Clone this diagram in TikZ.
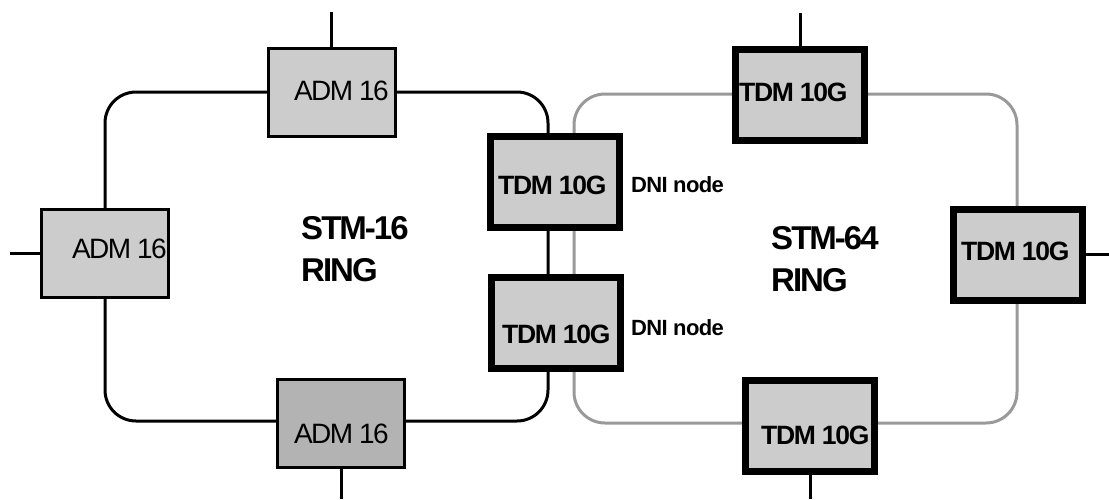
\documentclass[tikz,border=0pt]{standalone}
\usepackage{fontspec}
\setmainfont{Liberation Sans}
\definecolor{boxgray}{HTML}{CCCCCC}
\definecolor{boxdark}{HTML}{B3B3B3}
\definecolor{ringgray}{HTML}{999999}
\begin{document}
\begin{tikzpicture}[x=1pt,y=-1pt,
  ringline/.style={line width=3pt, rounded corners=31pt},
  admbox/.style={draw, line width=3pt, fill=boxgray, inner sep=0pt, minimum width=127pt, minimum height=88pt},
  tdmbox/.style={draw, line width=7pt, fill=boxgray, inner sep=0pt, minimum width=129pt, minimum height=91pt},
  stub/.style={line width=3pt},
  admtext/.style={anchor=base west, inner sep=0pt, font=\fontsize{28}{28}\selectfont\addfontfeature{LetterSpace=-6}},
  tdmtext/.style={anchor=base west, inner sep=0pt, font=\fontsize{26.5}{26.5}\selectfont\bfseries\addfontfeature{LetterSpace=-5}},
  dnitext/.style={anchor=base west, inner sep=0pt, font=\fontsize{22}{22}\selectfont\bfseries\addfontfeature{LetterSpace=-3}},
  ringtext/.style={anchor=base west, inner sep=0pt, font=\fontsize{33}{33}\selectfont\bfseries\addfontfeature{LetterSpace=-6}}]
\useasboundingbox (0,0) rectangle (1109,499);
% rings
\draw[ringline, ringgray] (574,94) rectangle (1017,423);
\draw[ringline] (105,92) rectangle (548,421);
% ADM boxes
\node[admbox] (admtop) at (331.5,92.5) {};
\node[admbox] (admleft) at (105,253) {};
\node[admbox, fill=boxdark] (admbot) at (341,423.5) {};
% TDM boxes
\node[tdmbox] (dni1) at (554.5,181.5) {};
\node[tdmbox] (dni2) at (555.5,323) {};
\node[tdmbox] (tdmtop) at (800,94.5) {};
\node[tdmbox] (tdmright) at (1017.5,254.5) {};
\node[tdmbox] (tdmbot) at (810,425.5) {};
% stub end points
\coordinate (sadmtop) at (331.5,12);
\coordinate (sadmleft) at (10,253);
\coordinate (sadmbot) at (341,499);
\coordinate (stdmtop) at (800,13);
\coordinate (stdmright) at (1109,254.5);
\coordinate (stdmbot) at (810,499);
\draw[stub] (admtop.north) -- (sadmtop);
\draw[stub] (admleft.west) -- (sadmleft);
\draw[stub] (admbot.south) -- (sadmbot);
\draw[stub] (tdmtop.north) -- (stdmtop);
\draw[stub] (tdmright.east) -- (stdmright);
\draw[stub] (tdmbot.south) -- (stdmbot);
% texts
\node[admtext] (t1) at (294,100) {ADM 16};
\node[admtext] (t2) at (72,258) {ADM 16};
\node[admtext] (t3) at (294,443) {ADM 16};
\node[tdmtext] (t4) at (498,194) {TDM 10G};
\node[tdmtext] (t5) at (502,343) {TDM 10G};
\node[tdmtext] (t6) at (739,101) {TDM 10G};
\node[tdmtext] (t7) at (961,260) {TDM 10G};
\node[tdmtext] (t8) at (761,444) {TDM 10G};
\node[dnitext] (d1) at (631,192) {DNI node};
\node[dnitext] (d2) at (631,335) {DNI node};
\node[ringtext] (r1) at (301,239) {STM-16};
\node[ringtext] (r2) at (301,281) {RING};
\node[ringtext] (r3) at (771,249) {STM-64};
\node[ringtext] (r4) at (771,291) {RING};
\end{tikzpicture}
\end{document}
